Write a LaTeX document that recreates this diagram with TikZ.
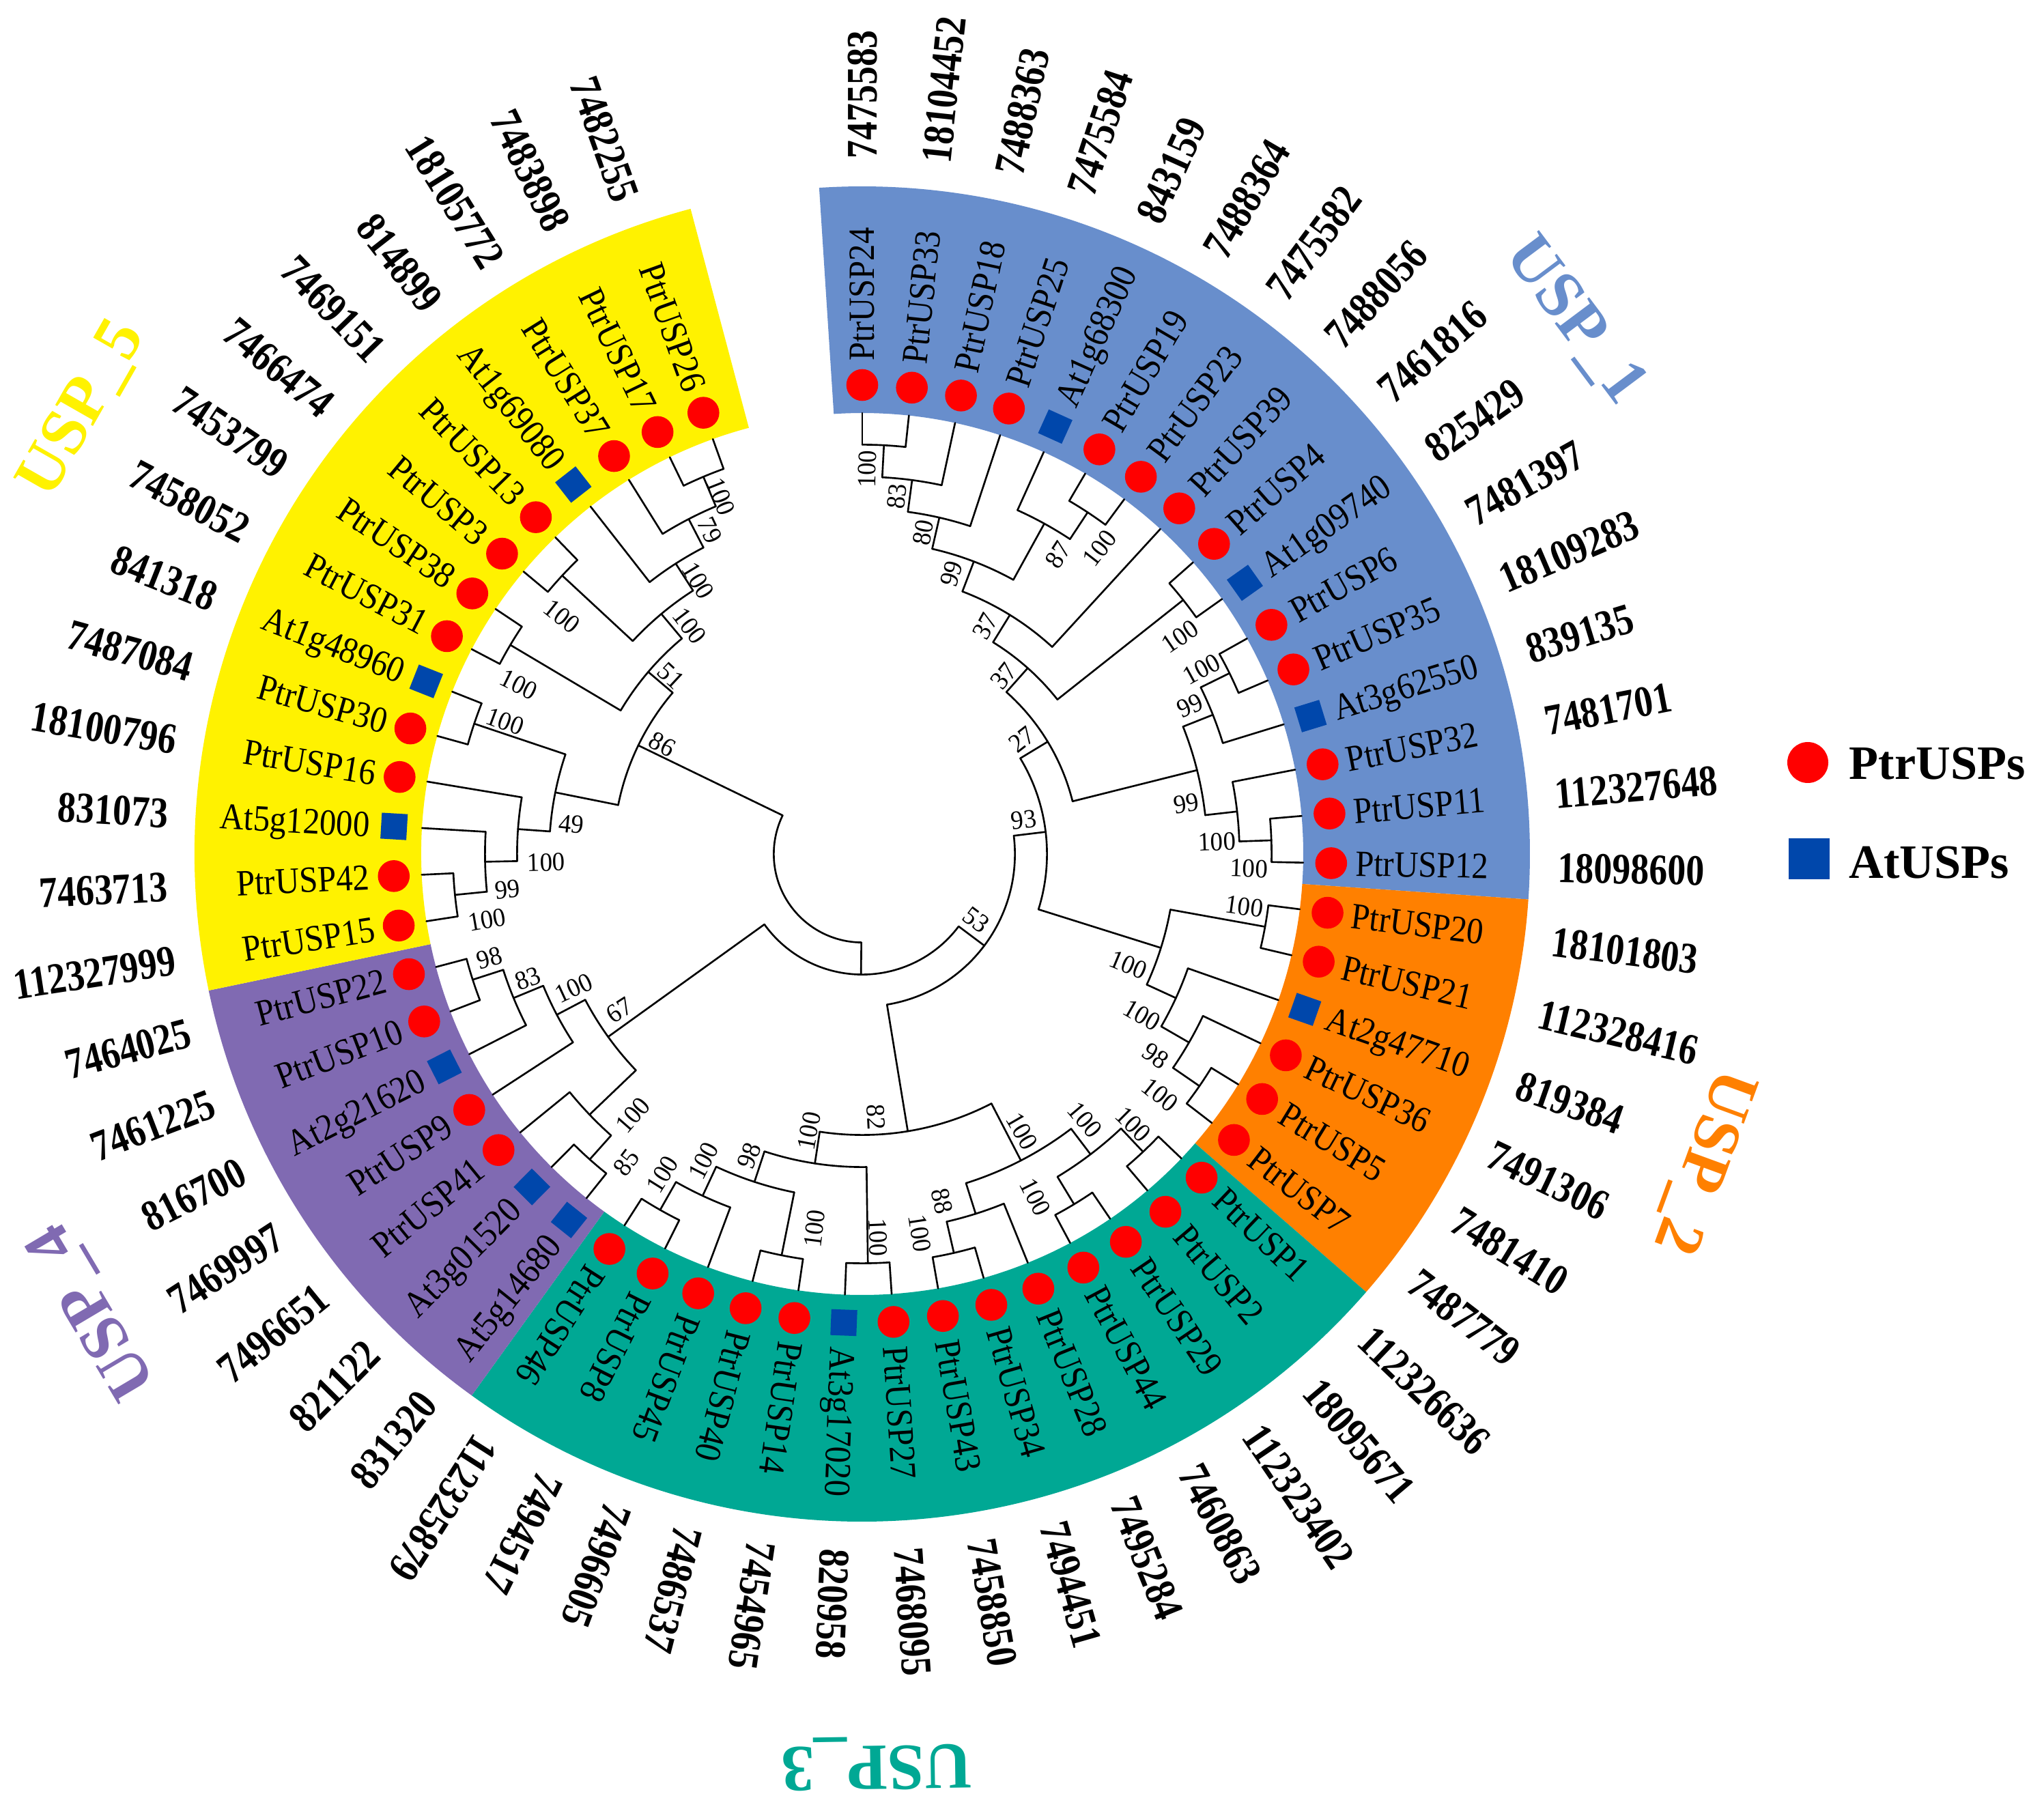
\documentclass[tikz,border=0pt]{standalone}
\usepackage{fontspec}
\setmainfont{Liberation Serif}
\newfontfamily\leaffont[FakeStretch=0.9]{Liberation Serif}
\newfontfamily\numfont[FakeStretch=0.84]{Liberation Serif}
\newfontfamily\bsfont[FakeStretch=0.95]{Liberation Serif}
\definecolor{uspone}{RGB}{104,142,204}
\definecolor{usptwo}{RGB}{255,128,0}
\definecolor{uspthree}{RGB}{0,168,148}
\definecolor{uspfour}{RGB}{128,106,178}
\definecolor{uspfive}{RGB}{255,242,0}
\definecolor{ptrred}{RGB}{255,0,0}
\definecolor{atblue}{RGB}{0,71,171}
\tikzset{
 treeline/.style={line width=0.75pt, line cap=round, draw=black},
 leaflab/.style={font=\leaffont\fontsize{15.4}{16}\selectfont, inner sep=0pt, text height=10.2pt, text depth=0pt},
 numlab/.style={font=\numfont\bfseries\fontsize{18.2}{19}\selectfont, inner sep=0pt, text height=12.3pt, text depth=0pt},
 bslab/.style={font=\bsfont\fontsize{11}{12}\selectfont, inner sep=0pt, text height=7.4pt, text depth=0pt},
 grouplab/.style={font=\bfseries\fontsize{27.5}{29}\selectfont, inner sep=0pt, text height=18.6pt, text depth=0pt},
 leglab/.style={font=\bfseries\fontsize{20}{22}\selectfont, inner sep=0pt, anchor=base west},
 atmark/.style={fill=atblue, minimum size=0.38cm, inner sep=0pt, draw=none},
 ptrmark/.style={circle, fill=ptrred, minimum size=0.466cm, inner sep=0pt, draw=none}
}
\newcommand\uspsector[3]{\fill[#3] (#1:6.46) arc[start angle=#1,end angle=#2,radius=6.46] -- (#2:9.78) arc[start angle=#2,end angle=#1,radius=9.78] -- cycle;}
\begin{document}
\begin{tikzpicture}
\useasboundingbox (-12.63,-13.76) rectangle (17.31,12.51);
\fill[white] (-12.63,-13.76) rectangle (17.31,12.51);
% coloured ring
\uspsector{93.7}{-3.9}{uspone}
\uspsector{-3.9}{-41.0}{usptwo}
\uspsector{-41.0}{-125.8}{uspthree}
\uspsector{-125.8}{-168.2}{uspfour}
\uspsector{-168.2}{-255.1}{uspfive}
% tree: arcs of internal nodes (angle a, angle b, height)
\foreach \a/\b/\h in {90/83.925/1, 86.9625/77.85/2, 82.40625/71.775/3, 59.625/53.55/1, 65.7/56.5875/2, 77.090625/61.14375/4, 69.1171875/47.475/5, 41.4/35.325/1, 58.296/38.3625/6, 29.25/23.175/1, 26.2125/17.1/2, 4.95/-1.125/1, 11.025/1.9125/2, 21.65625/6.46875/3, 48.329/14.0625/7, -7.2/-13.275/1, -31.5/-37.575/1, -25.425/-34.5375/2, -19.35/-29.98125/3, -10.2375/-24.665625/4, 31.196/-17.452/8, -43.65/-49.725/1, -55.8/-61.875/1, -46.6875/-58.8375/2, -74.025/-80.1/1, -67.95/-77.0625/2, -52.7625/-72.50625/3, -86.175/-92.25/1, -98.325/-104.4/1, -116.55/-122.625/1, -110.475/-119.5875/2, -101.3625/-115.03125/3, -89.2125/-108.196875/4, -62.634/-98.705/5, 6.872/-80.670/9, -128.7/-134.775/1, -131.7375/-140.85/2, -159.075/-165.15/1, -153.0/-162.1125/2, -146.925/-157.55625/3, -136.29375/-152.240625/4, -36.899/-144.267/10, -171.225/-177.3/1, -174.2625/-183.375/2, -178.81875/-189.45/3, -195.525/-201.6/1, -184.134/-198.5625/4, -207.675/-213.75/1, -219.825/-225.9/1, -244.125/-250.2/1, -238.05/-247.1625/2, -231.975/-242.60625/3, -222.8625/-237.290625/4, -210.7125/-230.077/5, -191.348/-220.395/6, -90.583/-205.871/11}{
  \pgfmathsetmacro\rr{6.466-0.47*\h}
  \draw[treeline] (\a:\rr) arc[start angle=\a,end angle=\b,radius=\rr];
}
% tree: radial branches of internal nodes (angle, parent height, own height)
\foreach \ang/\hp/\hc in {86.9625/2/1, 82.40625/3/2, 77.090625/4/3, 56.5875/2/1, 61.14375/4/2, 69.1171875/5/4, 58.296/6/5, 38.3625/6/1, 48.329/7/6, 26.2125/2/1, 21.65625/3/2, 1.9125/2/1, 6.46875/3/2, 14.0625/7/3, 31.196/8/7, -10.2375/4/1, -34.5375/2/1, -29.98125/3/2, -24.665625/4/3, -17.452/8/4, 6.872/9/8, -46.6875/2/1, -58.8375/2/1, -52.7625/3/2, -77.0625/2/1, -72.50625/3/2, -62.634/5/3, -89.2125/4/1, -101.3625/3/1, -119.5875/2/1, -115.03125/3/2, -108.196875/4/3, -98.705/5/4, -80.670/9/5, -36.899/10/9, -131.7375/2/1, -136.29375/4/2, -162.1125/2/1, -157.55625/3/2, -152.240625/4/3, -144.267/10/4, -90.583/11/10, -174.2625/2/1, -178.81875/3/2, -184.134/4/3, -198.5625/4/1, -191.348/6/4, -210.7125/5/1, -222.8625/4/1, -247.1625/2/1, -242.60625/3/2, -237.290625/4/3, -230.077/5/4, -220.395/6/5, -205.871/11/6}{
  \pgfmathsetmacro\rp{6.466-0.47*\hp}
  \pgfmathsetmacro\rc{6.466-0.47*\hc}
  \draw[treeline] (\ang:\rp) -- (\ang:\rc);
}
% leaves: index / parent height / name / id / marker
\foreach \i/\h/\nm/\num/\k in {
0/1/PtrUSP24/7475583/c, 1/1/PtrUSP33/18104452/c, 2/2/PtrUSP18/7488363/c, 3/3/PtrUSP25/7475584/c,
4/2/At1g68300/843159/s, 5/1/PtrUSP19/7488364/c, 6/1/PtrUSP23/7475582/c, 7/5/PtrUSP39/7488056/c,
8/1/PtrUSP4/7461816/c, 9/1/At1g09740/825429/s, 10/1/PtrUSP6/7481397/c, 11/1/PtrUSP35/18109283/c,
12/2/At3g62550/839135/s, 13/2/PtrUSP32/7481701/c, 14/1/PtrUSP11/112327648/c, 15/1/PtrUSP12/18098600/c,
16/1/PtrUSP20/18101803/c, 17/1/PtrUSP21/112328416/c, 18/3/At2g47710/819384/s, 19/2/PtrUSP36/7491306/c,
20/1/PtrUSP5/7481410/c, 21/1/PtrUSP7/7487779/c, 22/1/PtrUSP1/112326636/c, 23/1/PtrUSP2/18095671/c,
24/1/PtrUSP29/112323402/c, 25/1/PtrUSP44/7460863/c, 26/2/PtrUSP28/7495284/c, 27/1/PtrUSP34/7494451/c,
28/1/PtrUSP43/7458850/c, 29/1/PtrUSP27/7468095/c, 30/1/At3g17020/820958/s, 31/1/PtrUSP14/7454965/c,
32/1/PtrUSP40/7486537/c, 33/2/PtrUSP45/7496605/c, 34/1/PtrUSP8/7494517/c, 35/1/PtrUSP46/112325879/c,
36/1/At5g14680/831320/s, 37/1/At3g01520/821122/s, 38/2/PtrUSP41/7496651/c, 39/3/PtrUSP9/7469997/c,
40/2/At2g21620/816700/s, 41/1/PtrUSP10/7461225/c, 42/1/PtrUSP22/7464025/c, 43/1/PtrUSP15/112327999/c,
44/1/PtrUSP42/7463713/c, 45/2/At5g12000/831073/s, 46/3/PtrUSP16/18100796/c, 47/1/PtrUSP30/7487084/c,
48/1/At1g48960/841318/s, 49/1/PtrUSP31/7458052/c, 50/1/PtrUSP38/7453799/c, 51/1/PtrUSP3/7466474/c,
52/1/PtrUSP13/7469151/c, 53/3/At1g69080/814899/s, 54/2/PtrUSP37/18105772/c, 55/1/PtrUSP17/7483898/c,
56/1/PtrUSP26/7482255/c}{
  \pgfmathsetmacro\ang{90-6.075*\i}
  \pgfmathsetmacro\angf{\ang+180}
  \pgfmathsetmacro\rp{6.466-0.47*\h}
  \draw[treeline] (\ang:\rp) -- (\ang:6.46);
  \if\k s
    \node[atmark, rotate=\ang] (mk\i) at (\ang:6.87) {};
  \else
    \node[ptrmark] (mk\i) at (\ang:6.87) {};
  \fi
  \ifnum\i<36
    \node[leaflab, anchor=west, rotate=\ang] (lf\i) at (\ang:7.22) {\nm};
    \node[numlab, anchor=west, rotate=\ang] (id\i) at (\ang:10.18) {\num};
  \else
    \node[leaflab, anchor=east, rotate=\angf] (lf\i) at (\ang:7.22) {\nm};
    \node[numlab, anchor=east, rotate=\angf] (id\i) at (\ang:10.18) {\num};
  \fi
}
% bootstrap values: angle / radius / rotation / value
\foreach \ang/\rr/\rot/\txt [count=\n] in {
111.5/5.63/-68.5/100, 115.2/5.24/-64.8/79, 120.9/4.67/-59.1/100, 127.1/4.19/-52.9/100,
137.0/3.83/-43/51, 141.6/5.61/-38.4/100, 153.7/5.61/-26.3/100, 151.2/3.34/-28.8/86,
159.6/5.58/-20.4/100, 174.1/4.28/-5.9/49, 181.5/4.63/1.5/100, 185.7/5.22/5.7/99, 189.9/5.58/9.9/100,
-147.3/4.23/32.7/67, -29.9/1.93/-37/53, -87.0/3.86/-87/82, 12.1/2.42/7/93, 35.7/2.88/38/27,
89.3/5.64/89.3/100, 84.5/5.26/84.5/83, 79.3/4.79/79.3/80, 72.4/4.31/72.4/99, 61.7/3.79/61.7/37,
51.6/3.33/51.6/37, 56.8/5.24/56.8/87, 52.2/5.67/52.2/100, 34.4/5.64/34.4/100, 28.6/5.66/28.6/100,
24.4/5.27/24.4/99, 8.9/4.80/8.9/99, 2.0/5.20/2.0/100, -2.1/5.67/-2.1/100,
-7.8/5.65/-7.8/100, -22.6/4.22/-22.6/100, -29.9/4.73/-29.9/100, -34.5/5.22/-34.5/98, -38.9/5.61/-38.9/100,
-44.9/5.61/-44.9/100, -50.0/5.08/-50.0/100, -60.0/4.69/-60.0/100, -63.2/5.63/-63.2/100,
-77.0/5.22/-77.0/88, -81.3/5.62/-81.3/100, -87.6/5.62/-87.6/100, -100.9/4.13/79.1/100,
-97.3/5.53/82.7/100, -110.6/4.72/69.4/98, -117.4/5.06/62.6/100, -122.0/5.53/58/100,
-155.1/4.66/24.9/100, -159.6/5.23/20.4/83, -164.4/5.67/15.6/98, -131.3/5.09/48.7/100, -127.4/5.69/52.6/85}{
  \node[bslab, rotate=\rot] (bs\n) at (\ang:\rr) {\txt};
}
% group labels
\node[grouplab, text=uspone, rotate=-53.2] (gone) at (36.8:13.11) {USP\_1};
\node[grouplab, text=usptwo, rotate=-110.1] (gtwo) at (-20.1:13.19) {USP\_2};
\node[grouplab, text=uspthree, rotate=-179.1] (gthree) at (-89.1:13.40) {USP\_3};
\node[grouplab, text=uspfour, rotate=120.7] (gfour) at (-149.3:13.18) {USP\_4};
\node[grouplab, text=uspfive, rotate=60.3] (gfive) at (150.3:13.22) {USP\_5};
% legend
\node[ptrmark, minimum size=0.6cm] (legdot) at (13.85,1.34) {};
\node[atmark, minimum size=0.6cm] (legsq) at (13.87,-0.07) {};
\node[leglab] (legptr) at (14.45,1.09) {PtrUSPs};
\node[leglab] (legat) at (14.45,-0.35) {AtUSPs};
\end{tikzpicture}
\end{document}
